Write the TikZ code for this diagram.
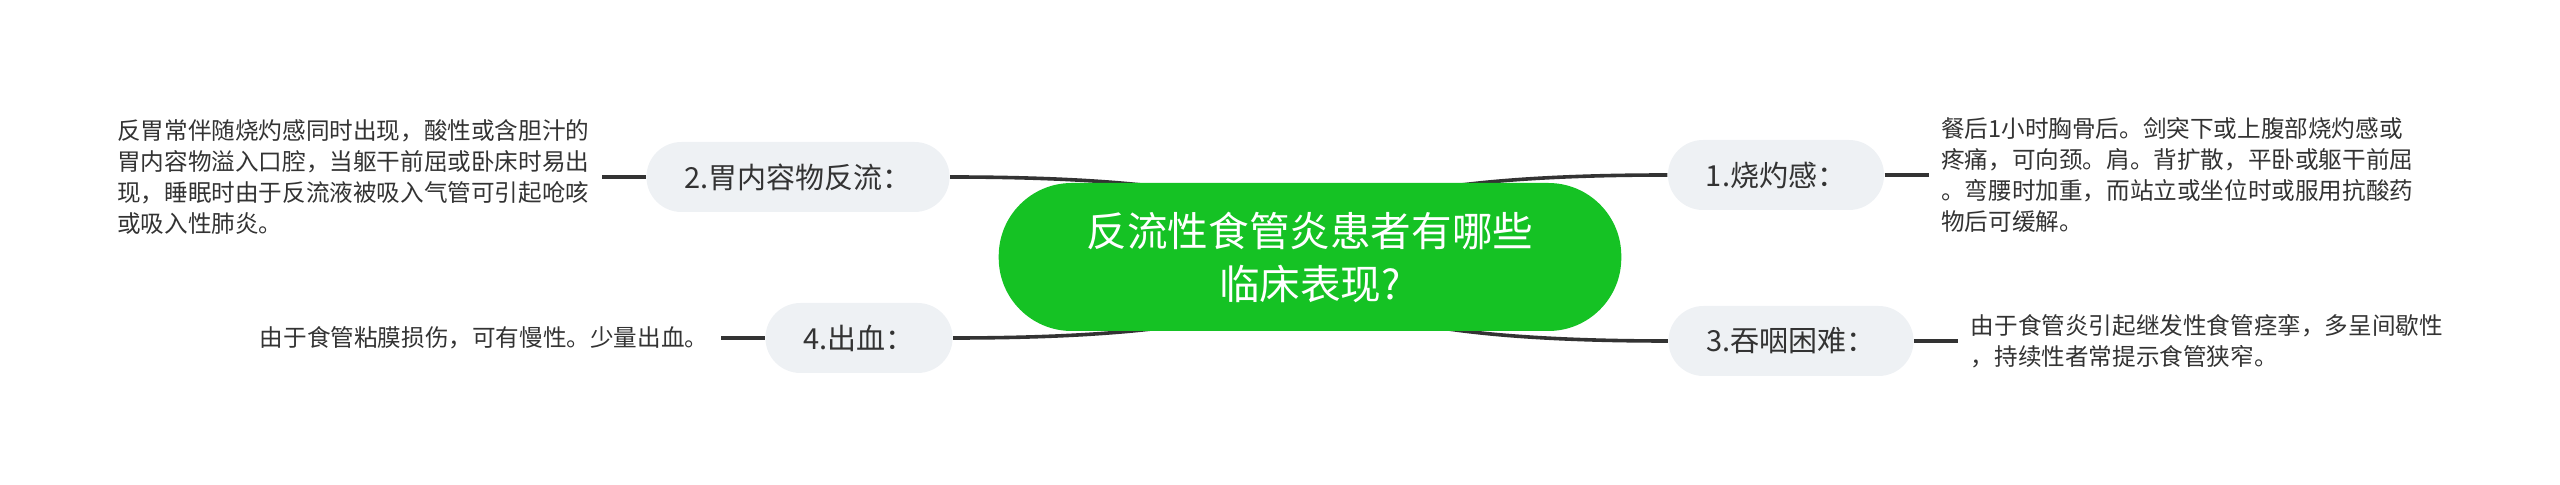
\documentclass[tikz,border=0pt]{standalone}
\usepackage{fontspec}
\setmainfont{Noto Sans CJK SC}
\usetikzlibrary{positioning,backgrounds,calc}
\definecolor{rootgreen}{HTML}{15C224}
\definecolor{topicgray}{HTML}{EEF1F4}
\definecolor{linegray}{HTML}{333333}
\definecolor{textgray}{HTML}{333333}

\begin{document}
\begin{tikzpicture}[
                        x=0.5pt,
                        y=-0.5pt,
                        line width=1.6pt,
                        node distance=22pt,
                        semithick
                    ]
                    \tikzstyle{root}=[fill=rootgreen,text=white,rounded corners=36.5pt,minimum height=74pt,inner xsep=44pt,align=center,font=\fontsize{20.3pt}{26.5pt}\selectfont]
                    \tikzstyle{topic}=[fill=topicgray,text=textgray,rounded corners=17.5pt,minimum height=35pt,inner xsep=19pt,font=\fontsize{14.5pt}{17pt}\selectfont]
                    \tikzstyle{leaf}=[text=textgray,align=left,inner sep=6pt,font=\fontsize{11.8pt}{15.5pt}\selectfont]
                    \tikzstyle{link}=[draw=linegray,line width=1.8pt]

                    \useasboundingbox (0,0) rectangle (2560,485);

                    \node[root]  (R)  at (1310,257) {反流性食管炎患者有哪些\\临床表现?};
                    \node[topic] (B1) at (1776,175) {1.烧灼感：};
                    \node[topic] (B2) at (798,177)  {2.胃内容物反流：};
                    \node[topic] (B3) at (1791,341) {3.吞咽困难：};
                    \node[topic] (B4) at (859,338)  {4.出血：};

                    \node[leaf] (L1) [right=of B1] {餐后1小时胸骨后。剑突下或上腹部烧灼感或\\疼痛，可向颈。肩。背扩散，平卧或躯干前屈\\。弯腰时加重，而站立或坐位时或服用抗酸药\\物后可缓解。};
                    \node[leaf] (L2) [left=of B2]  {反胃常伴随烧灼感同时出现，酸性或含胆汁的\\胃内容物溢入口腔，当躯干前屈或卧床时易出\\现，睡眠时由于反流液被吸入气管可引起呛咳\\或吸入性肺炎。};
                    \node[leaf] (L3) [right=of B3] {由于食管炎引起继发性食管痉挛，多呈间歇性\\，持续性者常提示食管狭窄。};
                    \node[leaf] (L4) [left=of B4]  {由于食管粘膜损伤，可有慢性。少量出血。};

                    % root to topics: quadratic bends through (R |- topic)
                    \begin{scope}[on background layer]
                    \foreach \t/\a in {B1/west,B2/east,B3/west,B4/east}
                        \draw[link] (R.center) .. controls ($(R.center)!0.667!(R.center |- \t.\a)$)
                                                      and ($(\t.\a)!0.667!(R.center |- \t.\a)$) .. (\t.\a);
                    \end{scope}

                    \path[link]
                    (B1.east) edge (L1.west)
                    (B2.west) edge (L2.east)
                    (B3.east) edge (L3.west)
                    (B4.west) edge (L4.east) ;

                \end{tikzpicture}
\end{document}
